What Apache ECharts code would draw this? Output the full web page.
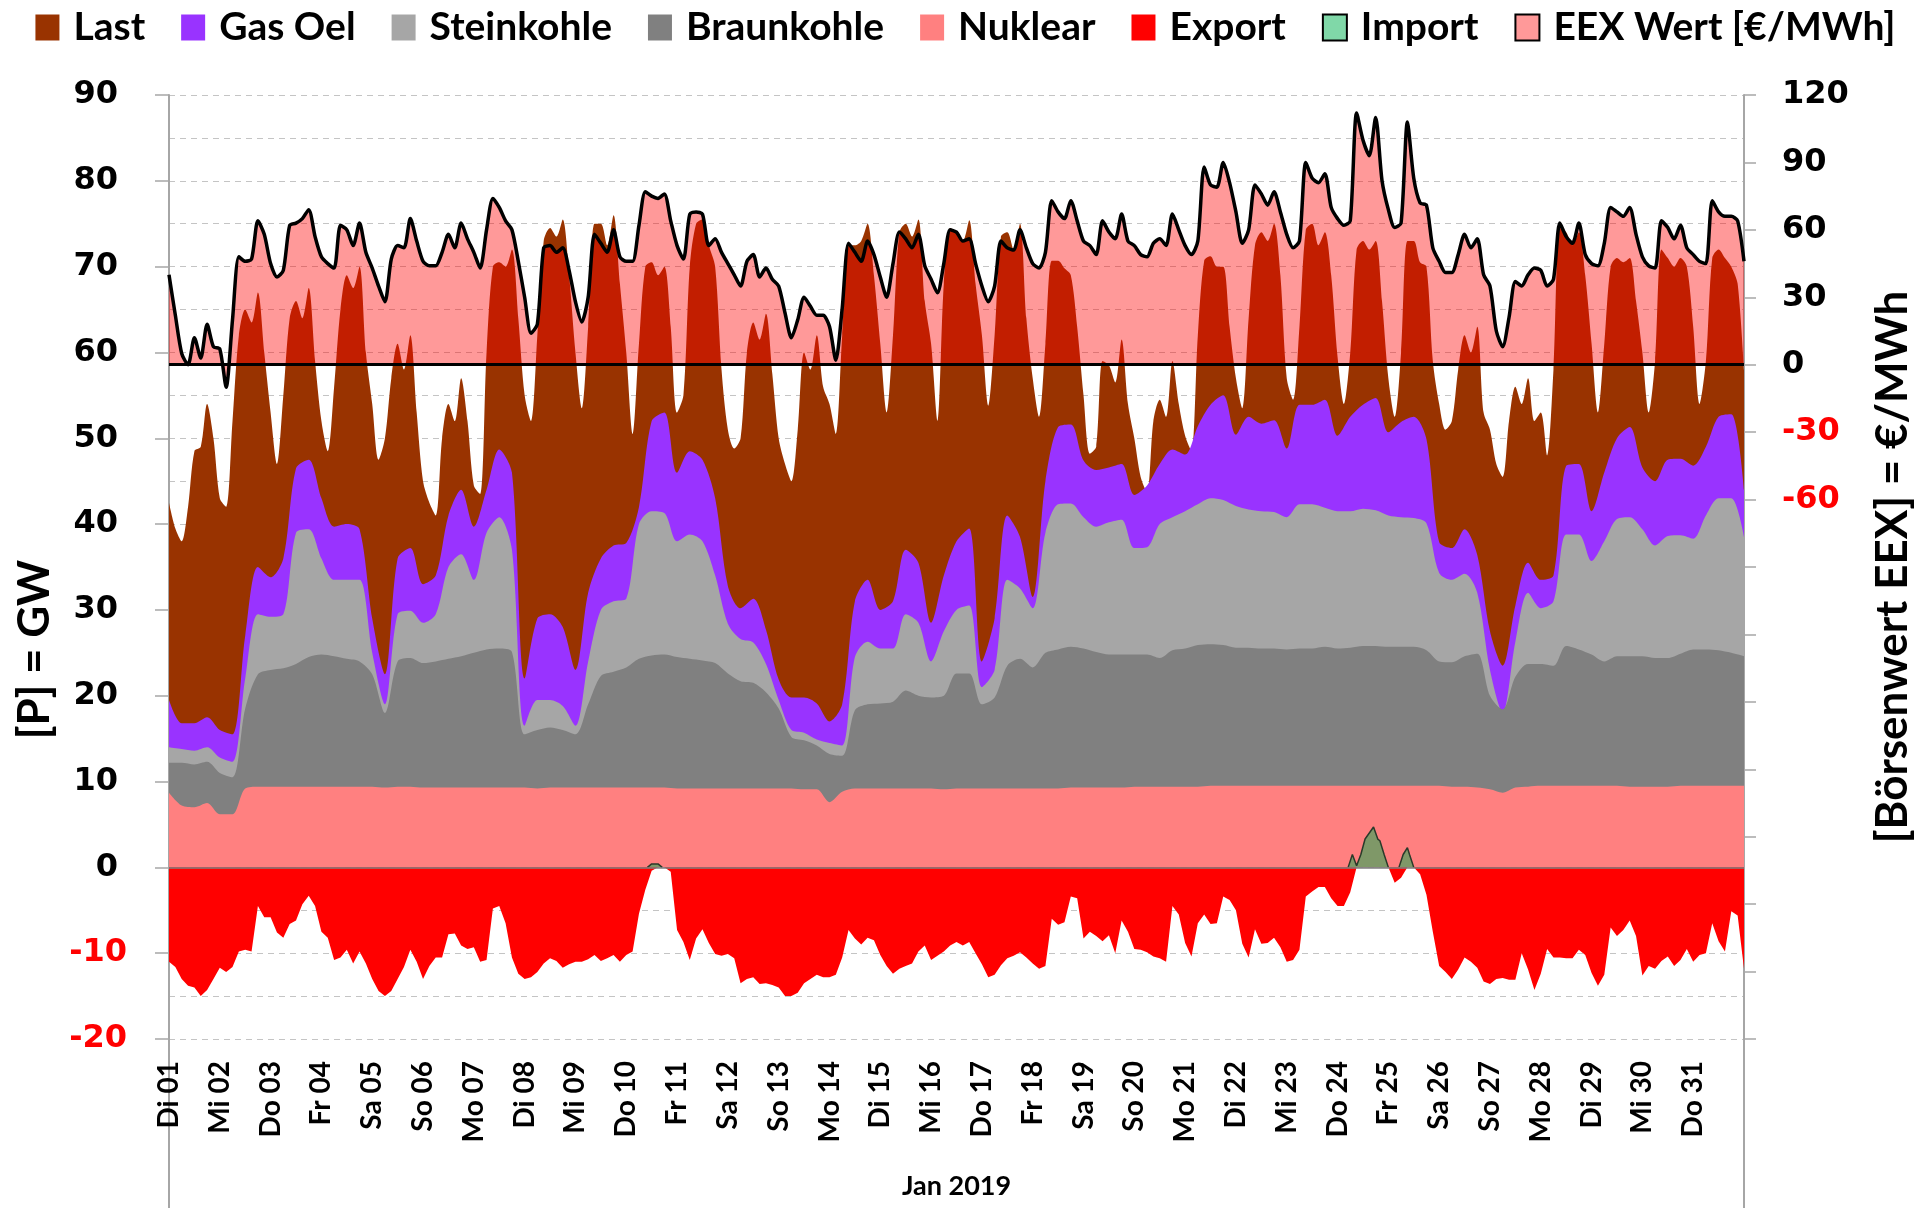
<!DOCTYPE html>
<html><head><meta charset="utf-8">
<script src="https://cdn.jsdelivr.net/npm/echarts/dist/echarts.min.js"></script>
<style>html,body{margin:0;padding:0;background:#fff}#c{width:1931px;height:1208px}</style>
</head><body><div id="c"></div>
<script>
// Kategorien: Tage im Januar 2019 (Achsenbeschriftung je 24 h)
const tage = ['Di 01','Mi 02','Do 03','Fr 04','Sa 05','So 06','Mo 07','Di 08','Mi 09','Do 10','Fr 11','Sa 12','So 13','Mo 14','Di 15','Mi 16','Do 17','Fr 18','Sa 19','So 20','Mo 21','Di 22','Mi 23','Do 24','Fr 25','Sa 26','So 27','Mo 28','Di 29','Mi 30','Do 31'];
const monat = 'Jan 2019';

// Last [GW], alle 3 h
const last = [
42.5,39.5,38,42,48.5,49,54,50, 43,42,52,62,65,63.5,67,60, 53,47,55,64,66,64,67.5,59, 52,48.5,56,65,69,67.5,70,60,
54,47.5,50,57,61,58,62,53, 45,42.5,41,50,54,52,57,52, 44.5,43.5,60,70,70.5,70,72,64, 55,52,62,73,74.5,73.5,75.5,69,
60,53.5,63,75,75,72.5,76,68, 60,50.5,61,70,70.5,69,70,63, 53,55,70,75,75.5,72.5,70,58, 51,48.8,50,60,63.5,61.5,64.5,57.5,
50,47,45,51,60,58,62,56, 54,50.5,62,72.5,72.5,73,75,69, 61,53,62,74,75,73.5,75.5,66, 61,52,68,74.5,74,73,75.4,68,
62,53.8,62,73.5,74,72,75,64, 57,52.5,61,70.7,70.7,69.8,69,63, 55,48.2,49,59,58.5,56.5,61.5,54, 50,45.5,43.7,52,54.5,52.5,59,54,
50.3,48.5,62,70.7,71.2,70,70,63, 57,53.5,64,72.5,74,73,75,69, 57,54.5,63,74.3,75,72.5,74,69, 59.5,54,60,72,73,72,73,66,
57,52.5,60,73,73,70.5,70,59, 54,51,52,58,62,60,63,53, 51,47,45.5,52,56,54,57,52, 53,48,58,74.5,74,72.5,74,69,
61,53,61,70,71,70.5,71,66, 60,53,59,72,71,70,71,70, 63,54,59,71,72,71,70,68, 58];

// Obergrenze Gas Oel [GW], alle 6 h
const gasOel = [
19.5,16.8,16.8,17.5, 16,15.5,27,35, 33.8,36,46.5,47.5, 43,39.7,40,39.4, 29,22.5,36,37.2, 33,34,41,44, 39.7,44,48.7,46,
22,29,29.5,28, 23,32,36,37.5, 37.8,42,52,53, 46,48.5,47.5,43, 32.8,30.2,31.3,27.7, 21.9,19.8,19.8,19.1, 17,19,31,33.5,
30,31,37,35.5, 28.5,34,38,39.5, 24,29,41,38.5, 31.5,45,51.3,51.6, 47.4,46.3,46.6,47, 43.4,44.5,47,48.7, 48.1,51.4,53.9,55,
50.4,52.5,51.7,52.1, 48.8,53.9,53.9,54.5, 50.3,52.5,53.9,54.7, 50.7,51.9,52.5,49.9, 37.9,37.2,39.4,36.4, 27.5,23.5,30.5,35.5,
33.5,34,46.8,47, 41.5,46,50,51.3, 46.6,45,47.5,47.6, 46.8,49,52.5,52.8, 44];

// Obergrenze Steinkohle [GW], alle 6 h
const steinkohle = [
14,13.8,13.6,14, 12.8,12.3,22,29.5, 29.2,29.5,39,39.4, 36,33.5,33.5,33.5, 25,19,29.5,29.9, 28.5,29.5,35,36.5, 33.5,39,40.8,37,
16.5,19.5,19.5,18.8, 16.5,24,30,31, 31.3,40,41.5,41.3, 38,38.8,38,34, 28.4,26.6,26.2,23.7, 19.5,16,15.7,14.9, 14.5,14.2,24.5,26.3,
25.5,25.5,29.5,28.5, 24,27.5,30,30.5, 21,23,33.5,32.5, 30.2,39,42.3,42.4, 40.8,39.7,40.2,40.5, 37.2,37.3,40,40.8, 41.5,42.3,43,42.8,
42.1,41.7,41.5,41.4, 40.8,42.3,42.3,41.9, 41.5,41.5,41.8,41.6, 41,40.8,40.7,40.1, 34.3,33.5,34.2,32, 23,18,26.3,32,
30.2,31,38.8,38.8, 35.7,38,40.6,40.8, 39.4,37.5,38.6,38.7, 38.3,41,43,43, 38.5];

// Obergrenze Braunkohle [GW], alle 6 h
const braunkohle = [
12.2,12.2,12,12.3, 11,10.5,18.5,22.5, 23,23.2,23.7,24.5, 24.8,24.6,24.3,24, 22.5,18,24,24.4, 23.8,24,24.3,24.6, 25,25.4,25.5,25.1,
15.5,16,16.3,16, 15.5,19,22.3,22.8, 23.3,24.3,24.7,24.8, 24.5,24.3,24.1,23.8, 22.6,21.7,21.5,20.4, 18.5,15.2,14.8,14.2, 13.2,13,18.3,19,
19.1,19.3,20.6,20, 19.8,20,22.6,22.6, 19,19.8,23.5,24.3, 23.3,25,25.4,25.7, 25.5,25.1,24.8,24.8, 24.8,24.8,24.4,25.3, 25.5,25.9,26,25.9,
25.6,25.6,25.5,25.5, 25.4,25.5,25.5,25.7, 25.5,25.6,25.8,25.8, 25.7,25.7,25.7,25.3, 24,23.9,24.6,24.9, 20,18.4,22.2,23.7,
23.7,23.5,25.8,25.4, 24.8,24,24.6,24.6, 24.6,24.4,24.4,24.9, 25.4,25.4,25.3,25, 24.6];

// Nuklear [GW], alle 6 h
const nuklear = [
8.7,7.2,7,7.5, 6.2,6.2,9.2,9.4, 9.4,9.4,9.4,9.4, 9.4,9.4,9.4,9.4, 9.4,9.3,9.4,9.4, 9.3,9.3,9.3,9.3, 9.3,9.3,9.3,9.3,
9.3,9.2,9.3,9.3, 9.3,9.3,9.3,9.3, 9.3,9.3,9.3,9.3, 9.2,9.2,9.2,9.2, 9.2,9.2,9.2,9.2, 9.2,9.2,9.1,9.1, 7.6,8.8,9.2,9.2,
9.2,9.2,9.2,9.2, 9.2,9.1,9.2,9.2, 9.2,9.2,9.2,9.2, 9.2,9.2,9.2,9.3, 9.3,9.3,9.3,9.3, 9.4,9.4,9.4,9.4, 9.4,9.4,9.5,9.5,
9.5,9.5,9.5,9.5, 9.5,9.5,9.5,9.5, 9.5,9.5,9.5,9.5, 9.5,9.5,9.5,9.5, 9.5,9.4,9.4,9.3, 9.1,8.7,9.3,9.4,
9.5,9.5,9.5,9.5, 9.5,9.5,9.5,9.4, 9.4,9.4,9.4,9.5, 9.5,9.5,9.5,9.5, 9.5];

// Export [GW] (negativ), alle 3 h
const exportGW = [
-11,-11.6,-13,-13.8,-14,-15,-14.3,-13, -11.7,-12.2,-11.6,-9.8,-9.6,-9.8,-4.5,-5.8, -5.8,-7.6,-8.2,-6.6,-6.2,-4.3,-3.3,-4.5,
-7.5,-8.2,-10.8,-10.5,-9.6,-11.2,-9.8,-11.2, -13,-14.4,-15,-14.4,-13,-11.6,-9.6,-11, -13,-11.5,-10.5,-10.5,-7.8,-7.7,-9.1,-9.5,
-9.3,-11,-10.8,-4.8,-4.5,-6.5,-10.5,-12.4, -13,-12.8,-12.2,-11.2,-10.6,-10.9,-11.7,-11.3, -11,-11,-10.7,-10.2,-10.9,-10.6,-10.2,-11,
-10.2,-9.8,-5.4,-2.6,-0.4,0,0,-0.5, -7.3,-8.7,-10.8,-8.3,-7.2,-8.8,-10.1,-10.3, -10.1,-10.6,-13.5,-13,-12.8,-13.6,-13.5,-13.7,
-14,-15,-15,-14.6,-13.5,-13,-12.5,-12.8, -12.8,-12.5,-10.5,-7.3,-8.3,-9,-8.2,-8.5, -10.2,-11.5,-12.4,-11.8,-11.5,-11.2,-9.8,-9.1,
-10.8,-10.3,-9.8,-9.1,-8.7,-9.1,-8.7,-10, -11.3,-12.8,-12.5,-11.4,-10.6,-10.3,-9.9,-10.5, -11.2,-11.8,-11.5,-6,-6.7,-6.4,-3.4,-3.6,
-8.3,-7.5,-8,-8.6,-7.9,-10,-6.2,-7.5, -9.5,-9.6,-9.9,-10.4,-10.6,-11,-4.5,-5.5, -8.8,-10.4,-6.5,-5.5,-6.6,-6.5,-3.4,-3.8,
-5,-8.9,-10.5,-7.2,-8.9,-8.8,-8.2,-9.3, -11,-10.8,-9.6,-3.4,-2.8,-2.3,-2.3,-3.6, -4.5,-4.5,-2.9,0,0,0,0,0,
0,-1.8,-1.2,0,0,-0.8,-3.2,-7.5, -11.5,-12.2,-13,-11.9,-10.5,-11,-11.7,-13.3, -13.6,-13,-12.9,-13.1,-13.1,-10,-11.9,-14.3,
-12.4,-9.5,-10.5,-10.5,-10.6,-10.6,-9.6,-10.2, -12.3,-13.8,-12.5,-7,-8,-7.3,-6.2,-8, -12.6,-11.5,-11.8,-10.9,-10.4,-11.5,-10.8,-9.5,
-11,-10.2,-10,-6.5,-8.6,-9.8,-5.1,-5.6, -11.8];

// Import [GW] an einzelnen Stunden (null = Lücke)
const importStunden = [226,228,231,233,400,557,559,561,563,565,567,569,571,572,574,576,580,581,583,585,586,588];
const importWerte   = [0,0.4,0.4,0,null,0,1.5,0.2,1.5,3.3,4.0,4.7,3.3,3.1,1.5,0,null,0,1.5,2.3,1.5,0];

// EEX Börsenwert [€/MWh], alle 3 h
const eexPreis = [
40,22,5,0,12,3,18,8, 7,-10,20,48,46,47,64,58, 45,39,42,62,63,65,69,57, 48,45,43,62,60,53,63,50,
43,35,28,47,53,52,65,55, 46,44,44,50,58,52,63,56, 50,43,60,74,70,64,60,46, 30,14,18,52,53,50,52,42,
28,19,30,58,54,50,60,48, 46,46,62,77,75,74,76,64, 53,47,67,68,67,53,56,50, 45,40,35,46,49,39,43,38,
35,23,12,20,30,26,22,22, 17,2,25,54,50,46,55,49, 39,30,45,59,56,52,58,44, 38,32,45,60,59,55,56,45,
35,28,35,55,52,51,60,52, 45,43,50,73,68,65,73,64, 55,53,49,64,59,56,67,55, 53,49,48,54,56,53,67,60,
53,49,55,88,80,79,90,81, 68,54,60,80,76,71,77,68, 58,52,55,90,83,81,85,70, 65,62,64,112,100,93,110,82,
69,61,63,108,83,72,71,52, 46,41,41,49,58,52,56,40, 35,15,8,21,37,35,40,43, 42,35,38,63,57,54,63,49,
45,44,54,70,68,66,70,58, 48,44,43,64,61,56,62,52, 49,46,45,73,68,66,66,64, 46];

const pts = (arr, step) => arr.map((v, i) => [i * step, v]);
const FONT_NUM = 'DejaVu Sans';
const FONT_TXT = 'Lato';

function area(name, data, color, extra) {
  return Object.assign({
    name, type: 'line', data, showSymbol: false, symbol: 'none', smooth: 0.3,
    lineStyle: { width: 0, opacity: 0 }, itemStyle: { color },
    areaStyle: { color, opacity: 1 }, emphasis: { disabled: true }, silent: true
  }, extra || {});
}

const chart = echarts.init(document.getElementById('c'), null, { renderer: 'canvas' });
const numRich = (size) => ({
  n: { color: '#ff0000', fontFamily: FONT_NUM, fontWeight: 'bold', fontSize: size },
  p: { color: '#000000', fontFamily: FONT_NUM, fontWeight: 'bold', fontSize: size }
});

const option = {
  animation: false,
  backgroundColor: '#ffffff',
  textStyle: { fontFamily: FONT_TXT },
  legend: {
    top: 3, left: 'center', icon: 'rect', itemWidth: 24, itemHeight: 26, itemGap: 36,
    textStyle: { fontFamily: FONT_TXT, fontWeight: 'bold', fontSize: 39, color: '#000', padding: [0, 0, 0, 9] },
    data: [
      { name: 'Last' }, { name: 'Gas Oel' }, { name: 'Steinkohle' }, { name: 'Braunkohle' },
      { name: 'Nuklear' }, { name: 'Export' },
      { name: 'Import', itemStyle: { color: '#80d8a8', borderColor: '#000', borderWidth: 2 } },
      { name: 'EEX Wert [€/MWh]', itemStyle: { color: '#ff9999', borderColor: '#000', borderWidth: 2 } }
    ]
  },
  grid: { left: 169, right: 187, top: 95, bottom: 169, containLabel: false, outerBoundsMode: 'none' },
  xAxis: {
    type: 'value', min: 0, max: 744, interval: 24,
    name: monat, nameLocation: 'middle', nameGap: 134,
    nameTextStyle: { fontFamily: FONT_TXT, fontWeight: 'bold', fontSize: 27, color: '#000' },
    axisLine: { show: false }, axisTick: { show: false }, splitLine: { show: false },
    axisLabel: {
      rotate: 90, margin: 22, fontFamily: FONT_TXT, fontWeight: 'bold', fontSize: 28, color: '#000',
      formatter: v => tage[Math.round(v / 24)] || ''
    }
  },
  yAxis: [
    {
      type: 'value', min: -20, max: 90, interval: 10, position: 'left',
      axisLine: { show: true, lineStyle: { color: '#a6a6a6', width: 2 } },
      axisTick: { show: true, inside: false, length: 14, lineStyle: { color: '#a6a6a6', width: 1.5 } },
      axisLabel: {
        margin: 42, fontFamily: FONT_NUM, fontWeight: 'bold', fontSize: 32,
        formatter: v => v < 0 ? '{n|' + v + '}' : '{p|' + v + '}',
        rich: Object.assign(numRich(32), { p: { color: '#000', fontFamily: FONT_NUM, fontWeight: 'bold', fontSize: 32, padding: [0, 9, 0, 0] } })
      },
      splitLine: { show: true, lineStyle: { color: '#c4c4c4', type: [6, 5], width: 1 } },
      minorTick: { show: false, splitNumber: 2 },
      minorSplitLine: { show: true, lineStyle: { color: '#c4c4c4', type: [6, 5], width: 1 } }
    },
    {
      type: 'value', min: -300, max: 120, interval: 30, position: 'right',
      axisLine: { show: true, lineStyle: { color: '#a6a6a6', width: 2 } },
      axisTick: { show: true, inside: false, length: 12, lineStyle: { color: '#a6a6a6', width: 1.5 } },
      axisLabel: {
        margin: 38, fontFamily: FONT_NUM, fontWeight: 'bold', fontSize: 32,
        formatter: v => v < -60 ? '' : (v < 0 ? '{n|' + v + '}' : '{p|' + v + '}'),
        rich: numRich(32)
      },
      splitLine: { show: false }
    }
  ],
  series: [
    area('Last', pts(last, 3), '#993300'),
    area('Gas Oel', pts(gasOel, 6), '#9933ff'),
    area('Steinkohle', pts(steinkohle, 6), '#a6a6a6'),
    area('Braunkohle', pts(braunkohle, 6), '#808080'),
    area('Nuklear', pts(nuklear, 6), '#ff8080'),
    area('Export', pts(exportGW, 3), '#ff0000', {
      smooth: false,
      markLine: { silent: true, symbol: 'none', label: { show: false },
        lineStyle: { color: '#7f7f7f', width: 1.5, type: 'solid' }, data: [{ yAxis: 0 }] }
    }),
    {
      name: 'Import', type: 'line', showSymbol: false, symbol: 'none', smooth: false, connectNulls: false,
      data: importStunden.map((h, i) => [h, importWerte[i]]),
      itemStyle: { color: '#80d8a8' },
      lineStyle: { color: '#2a3a2a', width: 1.5 },
      areaStyle: { color: 'rgba(0,176,80,0.5)', opacity: 1 }, silent: true
    },
    {
      name: 'EEX Wert [€/MWh]', type: 'line', yAxisIndex: 1, showSymbol: false, symbol: 'none', smooth: 0.25,
      data: pts(eexPreis, 3),
      itemStyle: { color: '#ff9999' },
      lineStyle: { color: '#000000', width: 3.5 },
      areaStyle: { color: 'rgba(255,0,0,0.4)', opacity: 1 },
      markLine: { silent: true, symbol: 'none', label: { show: false },
        lineStyle: { color: '#000000', width: 3, type: 'solid' }, data: [{ yAxis: 0 }] },
      silent: true, z: 3
    }
  ]
};
chart.setOption(option);

const xL = chart.convertToPixel({ xAxisIndex: 0 }, 0);
const xR = chart.convertToPixel({ xAxisIndex: 0 }, 744);
const yB = chart.convertToPixel({ yAxisIndex: 0 }, -20);
const yT = chart.convertToPixel({ yAxisIndex: 0 }, 90);
const H = chart.getHeight();
const titleStyle = (text) => ({ text, fontFamily: FONT_TXT, fontWeight: 'bold', fontSize: 44, fill: '#000',
  align: 'center', verticalAlign: 'middle', textAlign: 'center', textVerticalAlign: 'middle' });
chart.setOption({
  graphic: [
    { type: 'line', silent: true, shape: { x1: xL, y1: yB, x2: xL, y2: H }, style: { stroke: '#a6a6a6', lineWidth: 2 } },
    { type: 'line', silent: true, shape: { x1: xR, y1: yB, x2: xR, y2: H }, style: { stroke: '#a6a6a6', lineWidth: 2 } },
    { type: 'text', silent: true, x: 35, y: (yT + H) / 2 - 2, rotation: Math.PI / 2, style: titleStyle('[P] = GW') },
    { type: 'text', silent: true, x: xR + 149, y: (yT + yB) / 2, rotation: Math.PI / 2, style: titleStyle('[Börsenwert EEX] = €/MWh') }
  ]
});
</script></body></html>
